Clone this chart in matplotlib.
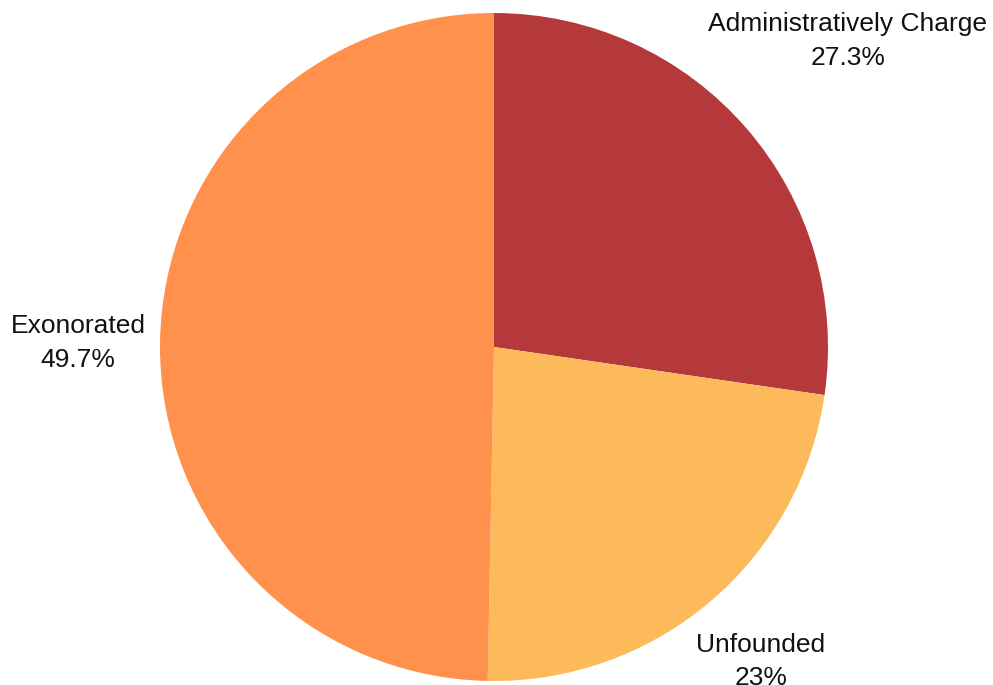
import numpy as np
import matplotlib.pyplot as plt

plt.rcParams['font.family'] = ['Liberation Sans', 'DejaVu Sans']

categories = ['Administratively Charge', 'Unfounded', 'Exonorated']
shares = [27.3, 23.0, 49.7]
share_labels = ['27.3%', '23%', '49.7%']
colors = ['#B5393A', '#FDBA5A', '#FF914D']
label_dist = [1.40, 1.235, 1.245]

fig = plt.figure(figsize=(9.93, 6.85), dpi=100)
ax = fig.add_axes([0, 0, 1, 1])

wedges, _ = ax.pie(shares, colors=colors, startangle=90, counterclock=False,
                   radius=1.0, wedgeprops=dict(linewidth=0))

for w, name, txt, d in zip(wedges, categories, share_labels, label_dist):
    mid = np.deg2rad((w.theta1 + w.theta2) / 2)
    ax.text(d * np.cos(mid), d * np.sin(mid), f'{name}\n{txt}',
            ha='center', va='center', fontsize=19, linespacing=1.5,
            color='#111111')

# one data unit = 334 px, pie centre at (494, 347) px from top-left
ax.set_xlim(-494 / 334, (993 - 494) / 334)
ax.set_ylim(-(685 - 347) / 334, 347 / 334)
ax.set_aspect('equal')
ax.axis('off')

fig.savefig('out.png', dpi=100)
